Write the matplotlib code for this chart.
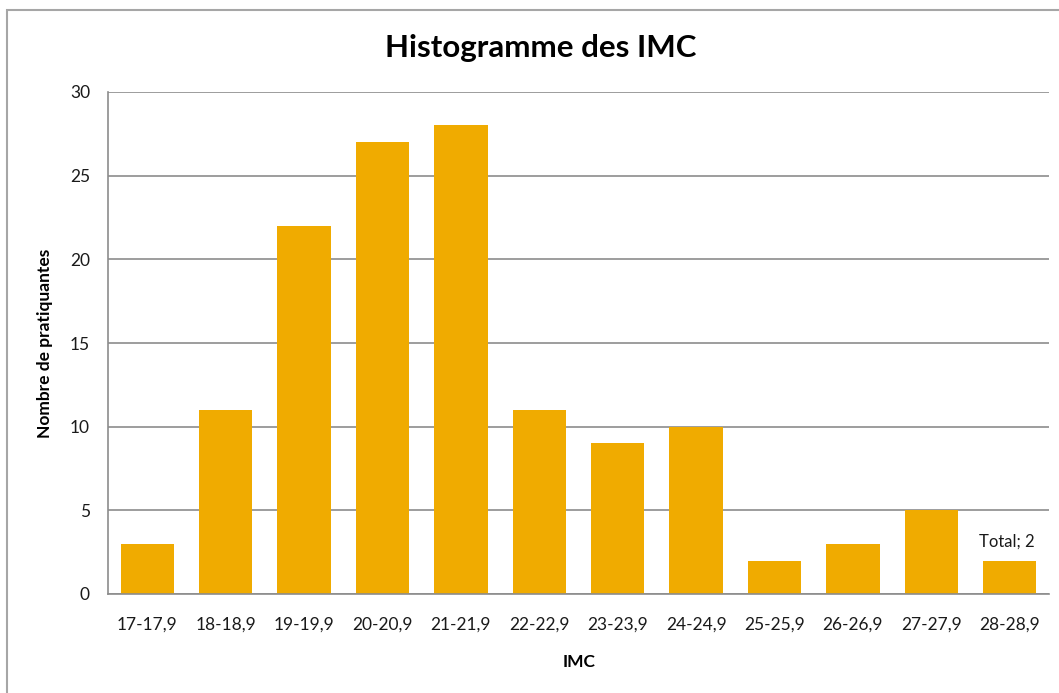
import matplotlib.pyplot as plt
from matplotlib.patches import Rectangle

categories = ['17-17,9', '18-18,9', '19-19,9', '20-20,9', '21-21,9', '22-22,9',
              '23-23,9', '24-24,9', '25-25,9', '26-26,9', '27-27,9', '28-28,9']
counts = [3, 11, 22, 27, 28, 11, 9, 10, 2, 3, 5, 2]
y_ticks = [0, 5, 10, 15, 20, 25, 30]

bar_color = '#F0AB00'
grey = '#8C8C8C'

plt.rcParams['font.family'] = ['Lato', 'DejaVu Sans']

W, H = 1059, 693
fig = plt.figure(figsize=(W / 100, H / 100), dpi=100)

# chart frame (Excel-like outer border)
fig.patches.append(Rectangle((7 / W, -0.05), 1.1, 1 - 10 / H + 0.05,
                             transform=fig.transFigure, fill=False,
                             edgecolor='#A6A6A6', linewidth=1.5))

ax = fig.add_axes([108 / W, 1 - 594 / H, (1049 - 108) / W, (594 - 92) / H])

x = list(range(len(categories)))
ax.bar(x, counts, width=0.68, color=bar_color, zorder=2)

ax.set_xlim(-0.5, len(categories) - 0.5)
ax.set_ylim(0, 30)
ax.set_yticks(y_ticks)
ax.set_xticks(x)
ax.set_xticklabels(categories)
ax.tick_params(axis='both', length=0, labelsize=12.5, colors='#1a1a1a')
ax.tick_params(axis='x', pad=16)
ax.tick_params(axis='y', pad=13)

ax.grid(axis='y', color=grey, linewidth=1.2, zorder=0)
for side in ['top', 'right']:
    ax.spines[side].set_visible(False)
for side in ['left', 'bottom']:
    ax.spines[side].set_color(grey)
    ax.spines[side].set_linewidth(1.2)

ax.annotate(f'Total; {counts[-1]}', (x[-1], counts[-1]), xytext=(-2, 8),
            textcoords='offset points', ha='center', va='bottom', fontsize=12,
            color='#1a1a1a')

fig.text(541 / W, 1 - 48 / H, 'Histogramme des IMC', ha='center', va='center',
         fontsize=22.5, fontweight='bold')
fig.text(45 / W, 1 - 343 / H, 'Nombre de pratiquantes', ha='center', va='center',
         rotation=90, fontsize=12.5, fontweight='bold')
fig.text(579 / W, 1 - 662 / H, 'IMC', ha='center', va='center',
         fontsize=12.5, fontweight='bold')

fig.savefig('out.png', dpi=100)
